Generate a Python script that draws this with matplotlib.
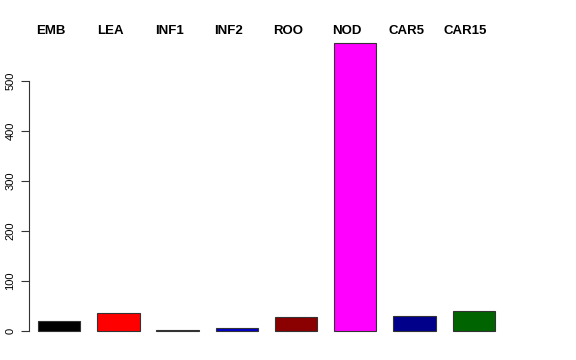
import numpy as np
import matplotlib
matplotlib.use("Agg")
import matplotlib.pyplot as plt
from matplotlib import transforms

# ===============================================================================

tissues = ["EMB", "LEA", "INF1", "INF2", "ROO", "NOD", "CAR5", "CAR15"]
counts = [20, 36, 2, 5, 27, 575, 30, 39]
colours = ["#000000", "#ff0000", "#000000", "#0000cd", "#8b0000", "#ff00ff", "#00008b", "#006400"]

# ===============================================================================

W, H = 576, 360
fig = plt.figure(figsize=(W / 100, H / 100), dpi=100)
plt.rcParams['font.family'] = ['Liberation Sans', 'DejaVu Sans']

# axes region in pixels (left, top, right, bottom)
l, t, r, b = 29, 31.5, 513, 342.5
ax = fig.add_axes([l / W, 1 - b / H, (r - l) / W, (b - t) / H])

# R style barplot: width 1, space 0.4
pos = 0.9 + 1.4 * np.arange(len(tissues))
ax.bar(pos, counts, width=1.0, color=colours, edgecolor="#333333", linewidth=0.8)

ax.set_xlim(0.187, 0.187 + (r - l) / 42.31)
ax.set_ylim(-575 * 0.04, 575 * 1.04)

for s in ["top", "right", "bottom"]:
    ax.spines[s].set_visible(False)
ax.spines["left"].set_bounds(0, 500)
ax.spines["left"].set_color("#333333")
ax.spines["left"].set_linewidth(0.8)

ax.set_xticks([])
yt = np.arange(0, 501, 100)
ax.set_yticks(yt)
ax.set_yticklabels([str(v) for v in yt], rotation=90, va="center", fontsize=8)
ax.tick_params(axis="y", length=5.8, width=0.8, color="#333333", pad=4)

# tissue names above the plot
trans = transforms.blended_transform_factory(ax.transData, fig.transFigure)
for p, name in zip(pos, tissues):
    ax.text(p - 0.2, 1 - 31.5 / H, name, transform=trans, ha="center", va="center",
            fontsize=9.5, fontweight="bold")

fig.savefig("out.png", dpi=100)
